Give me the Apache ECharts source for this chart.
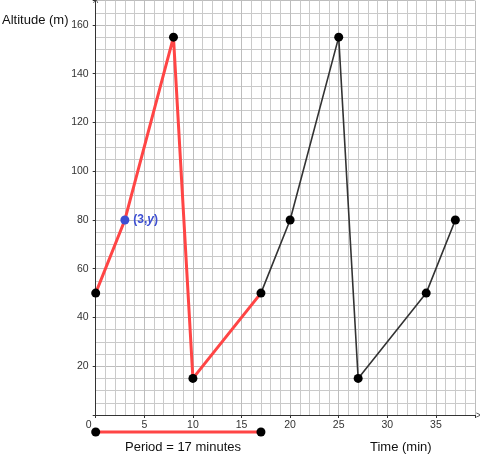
<!DOCTYPE html>
<html>
<head>
<meta charset="utf-8">
<script src="https://cdn.jsdelivr.net/npm/echarts@6/dist/echarts.min.js"></script>
<style>html,body{margin:0;padding:0;background:#fff}#c{width:480px;height:462px}</style>
</head>
<body>
<div id="c"></div>
<script>
// Data
const redX = [0, 3, 8, 10, 17];
const redY = [50, 80, 155, 15, 50];
const blackX = [17, 20, 25, 27, 34, 37];
const blackY = [50, 80, 155, 15, 50, 80];
const dotX = [0, 8, 10, 17, 20, 25, 27, 34, 37];
const dotY = [50, 155, 15, 50, 80, 155, 15, 50, 80];
const pointX = [3];
const pointY = [80];
const periodX = [0, 17];
const xMax = 39, yMax = 170;

const zip = (a, b) => a.map((v, i) => [v, b[i]]);
const chevron = 'path://M0,10L5,0L10,10L8.6,10L5,2.8L1.4,10Z';
const font = 'Liberation Sans, Arial, sans-serif';

const chart = echarts.init(document.getElementById('c'));
chart.setOption({
  animation: false,
  grid: [
    { left: 95.7, top: 0.6, width: 379.1, height: 414.4 },
    { left: 95.7, top: 427, width: 379.1, height: 10 }
  ],
  xAxis: [{
    type: 'value', min: 0, max: xMax, interval: 5, gridIndex: 0,
    axisLine: { show: true, onZero: false, lineStyle: { color: '#333', width: 1 },
      symbol: ['none', chevron], symbolSize: [7, 5], symbolOffset: [0, 4] },
    axisTick: { show: true, length: 3, lineStyle: { color: '#333' } },
    axisLabel: { color: '#333', fontSize: 10.5, fontFamily: font, margin: 5,
      formatter: v => v === 0 ? '{z|0}' : (v % 5 === 0 ? String(v) : ''),
      rich: { z: { fontSize: 10.5, fontFamily: font, color: '#333', padding: [0, 14, 0, 0] } } },
    splitLine: { show: true, lineStyle: { color: '#bdbdbd', width: 1 } },
    minorTick: { show: false, splitNumber: 5 },
    minorSplitLine: { show: true, lineStyle: { color: '#cacaca', width: 1 } }
  }, {
    type: 'value', min: 0, max: xMax, gridIndex: 1, show: false
  }],
  yAxis: [{
    type: 'value', min: 0, max: yMax, interval: 20, gridIndex: 0,
    axisLine: { show: true, onZero: false, lineStyle: { color: '#333', width: 1 },
      symbol: ['none', chevron], symbolSize: [7, 5] },
    axisTick: { show: true, length: 3, lineStyle: { color: '#333' } },
    axisLabel: { color: '#333', fontSize: 10.5, fontFamily: font, margin: 7,
      formatter: v => (v === 0 || v % 20 !== 0) ? '' : String(v) },
    splitLine: { show: true, lineStyle: { color: '#bdbdbd', width: 1 } },
    minorTick: { show: false, splitNumber: 4 },
    minorSplitLine: { show: true, lineStyle: { color: '#cacaca', width: 1 } }
  }, {
    type: 'value', min: -1, max: 1, gridIndex: 1, show: false
  }],
  series: [{
    type: 'line', data: zip(blackX, blackY), symbol: 'none',
    lineStyle: { color: '#333', width: 1.6 }, z: 2
  }, {
    type: 'line', data: zip(redX, redY), symbol: 'none',
    lineStyle: { color: '#ff4545', width: 3 }, z: 3
  }, {
    type: 'scatter', data: zip(dotX, dotY), symbolSize: 9,
    itemStyle: { color: '#000', opacity: 1 }, z: 4
  }, {
    type: 'scatter', data: zip(pointX, pointY), symbolSize: 9,
    itemStyle: { color: '#3d4fd3', opacity: 1 }, z: 5,
    label: { show: true, position: 'right', distance: 4,
      formatter: '{a|(3,}{b|y}{a|)}',
      rich: {
        a: { color: '#3d4fd3', fontSize: 12, fontWeight: 'bold', fontFamily: font },
        b: { color: '#3d4fd3', fontSize: 12, fontWeight: 'bold', fontStyle: 'italic', fontFamily: font }
      } }
  }, {
    type: 'line', xAxisIndex: 1, yAxisIndex: 1,
    data: periodX.map(v => [v, 0]), symbol: 'circle', symbolSize: 9,
    itemStyle: { color: '#000', opacity: 1 }, lineStyle: { color: '#ff4545', width: 3 }, z: 5
  }],
  graphic: [
    { type: 'text', left: 2, top: 14, style: { text: 'Altitude (m)', fontSize: 13, fontFamily: font, fill: '#111' } },
    { type: 'text', left: 125, top: 441, style: { text: 'Period = 17 minutes', fontSize: 13, fontFamily: font, fill: '#111' } },
    { type: 'text', left: 370, top: 441, style: { text: 'Time (min)', fontSize: 13, fontFamily: font, fill: '#111' } }
  ]
});
</script>
</body>
</html>
